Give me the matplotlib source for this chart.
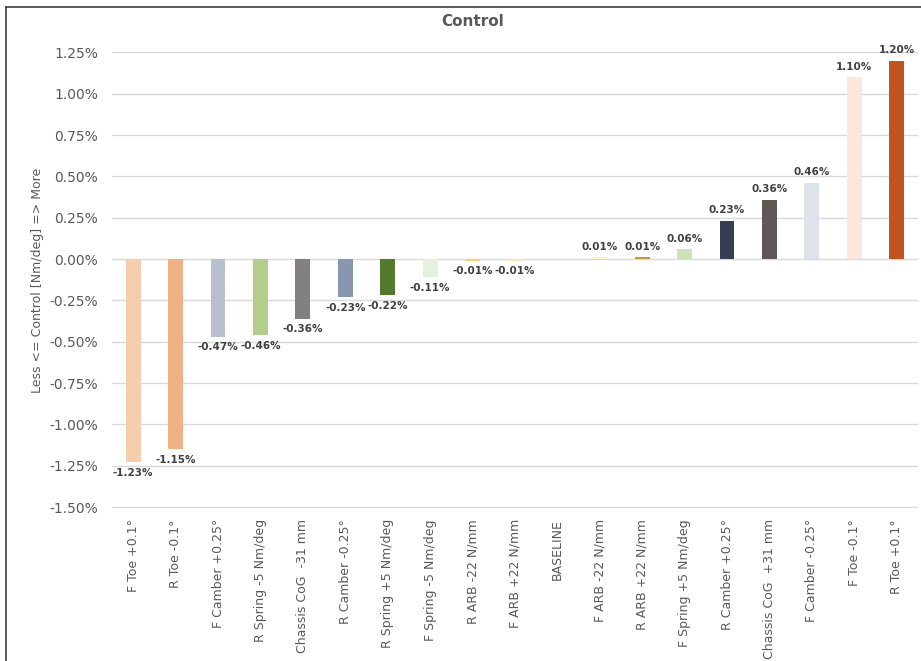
import matplotlib.pyplot as plt
from matplotlib.lines import Line2D

categories = [
    "F Toe +0.1°", "R Toe -0.1°", "F Camber +0.25°", "R Spring -5 Nm/deg",
    "Chassis CoG  -31 mm", "R Camber -0.25°", "R Spring +5 Nm/deg",
    "F Spring -5 Nm/deg", "R ARB -22 N/mm", "F ARB +22 N/mm", "BASELINE",
    "F ARB -22 N/mm", "R ARB +22 N/mm", "F Spring +5 Nm/deg", "R Camber +0.25°",
    "Chassis CoG  +31 mm", "F Camber -0.25°", "F Toe -0.1°", "R Toe +0.1°",
]
values = [-1.23, -1.15, -0.47, -0.46, -0.36, -0.23, -0.22, -0.11, -0.01, -0.01,
          0.0, 0.01, 0.01, 0.06, 0.23, 0.36, 0.46, 1.10, 1.20]
bar_colors = [
    "#F5CEAE", "#F0B285", "#B8BFCE", "#B3CD8A", "#858080", "#8897AF", "#557A2E",
    "#E6F0DC", "#F6D46E", "#F9E8AE", "#FFFFFF", "#FBF0D5", "#C49A2E", "#D1E2B8",
    "#363D50", "#5E5857", "#DEE2EA", "#FBE7DB", "#C0541C",
]
yticks = [1.25, 1.0, 0.75, 0.5, 0.25, 0.0, -0.25, -0.5, -0.75, -1.0, -1.25, -1.5]

plt.rcParams['font.family'] = ['DejaVu Sans']

fig = plt.figure(figsize=(9.21, 6.61), dpi=100)
ax = fig.add_axes([0.1216, 0.2315, 0.875, 0.6898])

x = list(range(len(categories)))
ax.bar(x, values, width=0.35, color=bar_colors, zorder=3)

ax.set_xlim(-0.5, len(categories) - 0.5)
ax.set_ylim(-1.505, 1.252)
ax.set_yticks(yticks)
ax.set_yticklabels([f"{v:.2f}%" for v in yticks], fontsize=10, color="#595959")
ax.set_xticks(x)
ax.set_xticklabels(categories, rotation=90, fontsize=9, color="#595959")
ax.tick_params(axis='y', length=0, pad=10)
ax.tick_params(axis='x', length=0, pad=8)
ax.grid(axis='y', color="#D9D9D9", linewidth=1, zorder=0)
for s in ax.spines.values():
    s.set_visible(False)

for xi, v in zip(x, values):
    if v == 0:
        continue
    if v > 0:
        ax.annotate(f"{v:.2f}%", (xi, v), xytext=(0, 4), textcoords="offset points",
                    ha="center", va="bottom", fontsize=7.5, fontweight="bold", color="#404040")
    else:
        ax.annotate(f"{v:.2f}%", (xi, v), xytext=(0, -4), textcoords="offset points",
                    ha="center", va="top", fontsize=7.5, fontweight="bold", color="#404040")

ax.set_ylabel("Less <= Control [Nm/deg] => More", fontsize=9, color="#595959", labelpad=4)
fig.text(0.513, 0.967, "Control", ha="center", va="center", fontsize=11,
         fontweight="bold", color="#595959")

# chart frame (left and top edges)
fig.add_artist(Line2D([0.006, 0.006], [0.0, 0.99], color="#404040", linewidth=1.2))
fig.add_artist(Line2D([0.006, 1.0], [0.99, 0.99], color="#404040", linewidth=1.2))

fig.savefig("out.png", dpi=100)
